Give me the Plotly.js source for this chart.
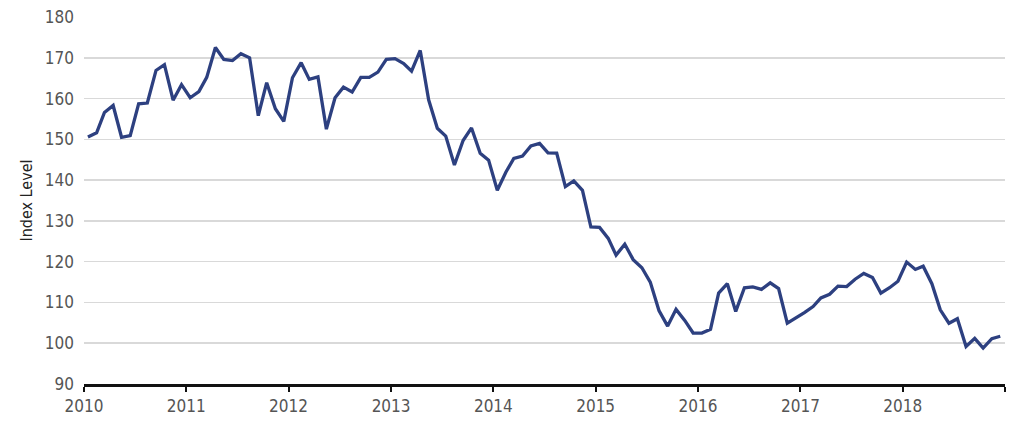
<!DOCTYPE html>
<html>
<head>
<meta charset="utf-8">
<script src="https://cdn.plot.ly/plotly-3.0.1.min.js"></script>
<style>
html,body{margin:0;padding:0;background:#fff;}
#chart{width:1030px;height:428px;}
</style>
</head>
<body>
<div id="chart"></div>
<script>
// Monthly index level, Jan 2010 - Dec 2018
const startYear = 2010;
const endYear = 2018;
const indexLevel = [
  150.6, 151.6, 156.6, 158.3, 150.5, 150.9, 158.7, 158.9, 166.9, 168.3, 159.6, 163.4,
  160.2, 161.7, 165.2, 172.5, 169.6, 169.3, 171.0, 170.0, 155.8, 163.9, 157.5, 154.4,
  165.1, 168.8, 164.7, 165.3, 152.5, 160.2, 162.8, 161.6, 165.2, 165.2, 166.5, 169.6,
  169.8, 168.6, 166.7, 171.8, 159.7, 152.7, 150.8, 143.7, 149.7, 152.8, 146.6, 144.9,
  137.5, 142.0, 145.3, 145.9, 148.4, 149.0, 146.7, 146.6, 138.4, 139.8, 137.5, 128.5,
  128.4, 125.7, 121.6, 124.3, 120.5, 118.5, 115.0, 108.0, 104.2, 108.3, 105.6, 102.5,
  102.5, 103.4, 112.3, 114.6, 107.8, 113.6, 113.8, 113.2, 114.8, 113.4, 104.9, 106.1,
  107.5, 109.0, 111.1, 112.0, 114.0, 113.9, 115.7, 117.1, 116.1, 112.3, 113.6, 115.2,
  119.9, 118.1, 118.9, 114.6, 108.2, 104.9, 106.0, 99.2, 101.2, 98.8, 101.1, 101.7
];
const tickYears = ["2010","2011","2012","2013","2014","2015","2016","2017","2018","2019"];
const tickLabels = ["2010","2011","2012","2013","2014","2015","2016","2017","2018",""];
const yTicks = [90,100,110,120,130,140,150,160,170,180];

const months = [];
for (let y = startYear; y <= endYear; y++) {
  for (let m = 1; m <= 12; m++) {
    months.push(y + "-" + String(m).padStart(2, "0") + "-15");
  }
}

const FONT = "'Liberation Sans Narrow', 'Arial Narrow', 'DejaVu Sans Condensed', 'Liberation Sans', sans-serif";

const trace = {
  x: months,
  y: indexLevel,
  type: "scatter",
  mode: "lines",
  line: {color: "#2d4080", width: 3.3},
  hoverinfo: "skip"
};

const layout = {
  width: 1030,
  height: 428,
  margin: {l: 84, r: 25, t: 17, b: 44, pad: 0},
  paper_bgcolor: "#ffffff",
  plot_bgcolor: "#ffffff",
  showlegend: false,
  font: {family: FONT, color: "#555555", size: 17},
  xaxis: {
    type: "date",
    range: [tickYears[0] + "-01-01", tickYears[tickYears.length - 1] + "-01-01"],
    tickvals: tickYears.map(y => y + "-01-01"),
    ticktext: tickLabels,
    showgrid: false,
    zeroline: false,
    showline: true,
    linecolor: "#111111",
    linewidth: 2.5,
    ticks: "outside",
    ticklen: 5,
    tickwidth: 2,
    tickcolor: "#111111",
    tickfont: {family: FONT, size: 17, color: "#555555"},
    fixedrange: true
  },
  yaxis: {
    range: [90, 180],
    tickvals: yTicks,
    showgrid: true,
    gridcolor: "#d9d9d9",
    gridwidth: 1.6,
    zeroline: false,
    showline: false,
    ticks: "",
    ticklabelstandoff: 9,
    tickfont: {family: FONT, size: 17, color: "#555555"},
    title: {text: "Index Level", font: {family: FONT, size: 16, color: "#222222"}, standoff: 8},
    fixedrange: true
  }
};

Plotly.newPlot("chart", [trace], layout, {displayModeBar: false, staticPlot: true});
</script>
</body>
</html>
